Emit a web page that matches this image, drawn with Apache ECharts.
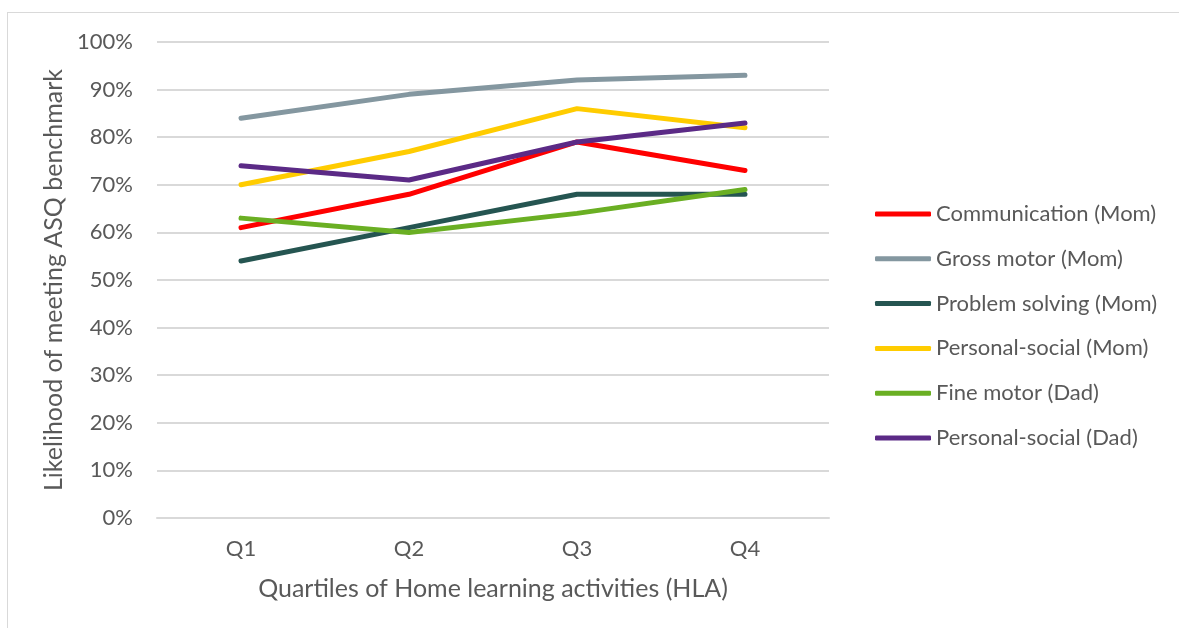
<!DOCTYPE html>
<html>
<head>
<meta charset="utf-8">
<script src="https://cdn.jsdelivr.net/npm/echarts@6/dist/echarts.min.js"></script>
<style>
  html, body { margin: 0; padding: 0; background: #fff; }
  #frame {
    position: absolute; left: 7px; top: 12px; width: 1180px; height: 630px;
    border: 1px solid #d9d9d9; box-sizing: border-box;
  }
  #chart { position: absolute; left: 0; top: 0; width: 1179px; height: 628px; }
</style>
</head>
<body>
<div id="frame"></div>
<div id="chart"></div>
<script>
  // categories and series values (percent)
  var quartiles = ['Q1', 'Q2', 'Q3', 'Q4'];
  var communicationMom = [61, 68, 79, 73];
  var grossMotorMom = [84, 89, 92, 93];
  var problemSolvingMom = [54, 61, 68, 68];
  var personalSocialMom = [70, 77, 86, 82];
  var fineMotorDad = [63, 60, 64, 69];
  var personalSocialDad = [74, 71, 79, 83];

  var seriesNames = ['Communication (Mom)', 'Gross motor (Mom)', 'Problem solving (Mom)',
    'Personal-social (Mom)', 'Fine motor (Dad)', 'Personal-social (Dad)'];
  var seriesData = [communicationMom, grossMotorMom, problemSolvingMom,
    personalSocialMom, fineMotorDad, personalSocialDad];
  var colors = ['#ff0000', '#8497a0', '#255551', '#ffcc00', '#6aaf23', '#5b2a86'];

  var font = 'Lato';
  var textColor = '#595959';

  var chart = echarts.init(document.getElementById('chart'));

  chart.setOption({
    animation: false,
    color: colors,
    grid: {
      left: 157,
      right: 350,
      top: 42,
      bottom: 110
    },
    legend: {
      orient: 'vertical',
      left: 870,
      top: 197,
      icon: 'roundRect',
      itemWidth: 56,
      itemHeight: 5,
      itemGap: 20.8,
      textStyle: {
        fontFamily: font,
        fontSize: 22,
        color: textColor,
        lineHeight: 24
      },
      data: seriesNames
    },
    xAxis: {
      type: 'category',
      data: quartiles,
      boundaryGap: true,
      name: 'Quartiles of Home learning activities (HLA)',
      nameLocation: 'middle',
      nameGap: 58,
      nameTextStyle: { fontFamily: font, fontSize: 25, color: textColor },
      axisLine: { lineStyle: { color: '#d9d9d9', width: 2 } },
      axisTick: { show: false },
      axisLabel: { fontFamily: font, fontSize: 22, color: textColor, margin: 20 }
    },
    yAxis: {
      type: 'value',
      min: 0,
      max: 100,
      interval: 10,
      name: 'Likelihood of meeting ASQ benchmark',
      nameLocation: 'middle',
      nameGap: 87,
      nameTextStyle: { fontFamily: font, fontSize: 25, color: textColor },
      axisLine: { show: false },
      axisTick: { show: false },
      axisLabel: {
        formatter: '{value}%',
        fontFamily: font,
        fontSize: 22,
        color: textColor,
        margin: 24
      },
      splitLine: { lineStyle: { color: '#d9d9d9', width: 2 } }
    },
    series: seriesNames.map(function (name, i) {
      return {
        name: name,
        type: 'line',
        data: seriesData[i],
        showSymbol: false,
        symbol: 'none',
        lineStyle: { width: 5, cap: 'round', join: 'round', color: colors[i] },
        itemStyle: { color: colors[i] }
      };
    })
  });
</script>
</body>
</html>
